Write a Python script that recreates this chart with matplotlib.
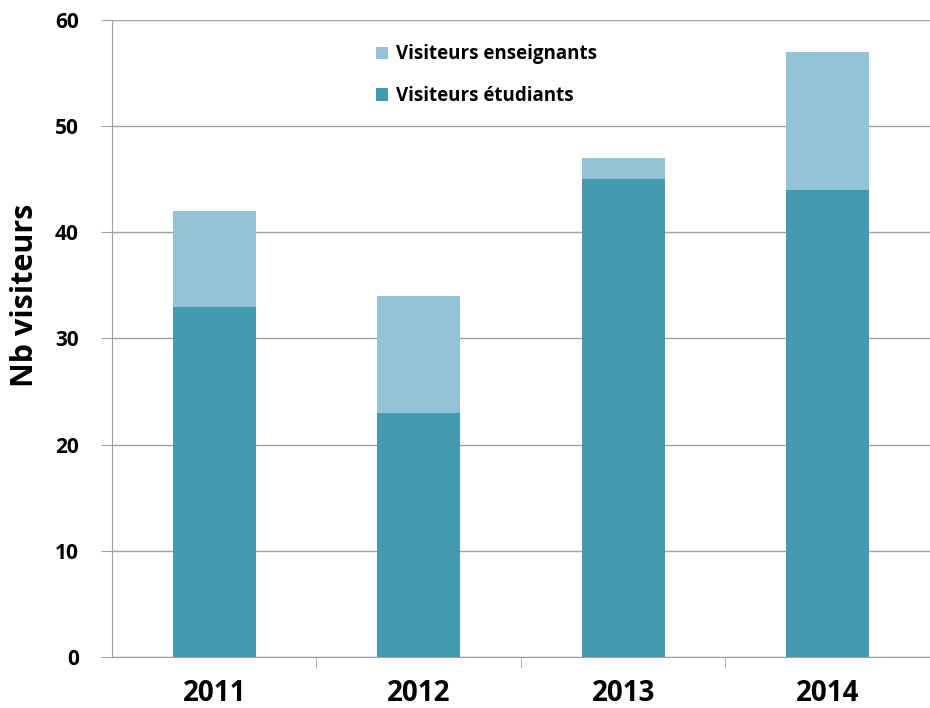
import numpy as np
import matplotlib.pyplot as plt

# data
years = ['2011', '2012', '2013', '2014']
etudiants = [33, 23, 45, 44]
enseignants = [9, 11, 2, 13]
yticks = [0, 10, 20, 30, 40, 50, 60]

dark = '#4599b0'
light = '#93c4d6'
grid_col = '#a0a0a0'

plt.rcParams['font.family'] = ['Open Sans', 'DejaVu Sans']

fig = plt.figure(figsize=(9.3, 7.08), dpi=100)
ax = fig.add_axes([0.1204, 0.072, 0.8796, 0.8998])

x = np.arange(len(years))
b1 = ax.bar(x, etudiants, width=0.405, color=dark, zorder=3)
b2 = ax.bar(x, enseignants, bottom=etudiants, width=0.405, color=light, zorder=3)

ax.set_xlim(-0.5, 3.5)
ax.set_ylim(0, 60)
ax.set_yticks(yticks)
ax.set_xticks(x)
ax.set_xticklabels(years, fontsize=20, fontweight='bold')
ax.set_xticks([0.5, 1.5, 2.5], minor=True)
for lab in ax.get_yticklabels():
    lab.set_fontsize(15)
    lab.set_fontweight('bold')

ax.tick_params(axis='x', which='major', length=0, pad=16)
ax.tick_params(axis='x', which='minor', length=8, color=grid_col, direction='out')
ax.tick_params(axis='y', length=8, color=grid_col, pad=16)
ax.yaxis.grid(True, color=grid_col, linewidth=1, zorder=0)
ax.set_axisbelow(True)

for s in ['top', 'right']:
    ax.spines[s].set_visible(False)
ax.spines['left'].set_color(grid_col)
ax.spines['bottom'].set_color(grid_col)

ax.set_ylabel('Nb visiteurs', fontsize=22, fontweight='bold')
ax.yaxis.set_label_coords(-0.088, 0.568)

leg = ax.legend([b2, b1], ['Visiteurs enseignants', 'Visiteurs étudiants'],
                loc='upper left', bbox_to_anchor=(0.302, 0.988), frameon=False,
                prop={'size': 13.5, 'weight': 'bold'}, handlelength=0.65,
                handleheight=0.65, handletextpad=0.4, labelspacing=1.15)

fig.savefig('out.png', dpi=100)
